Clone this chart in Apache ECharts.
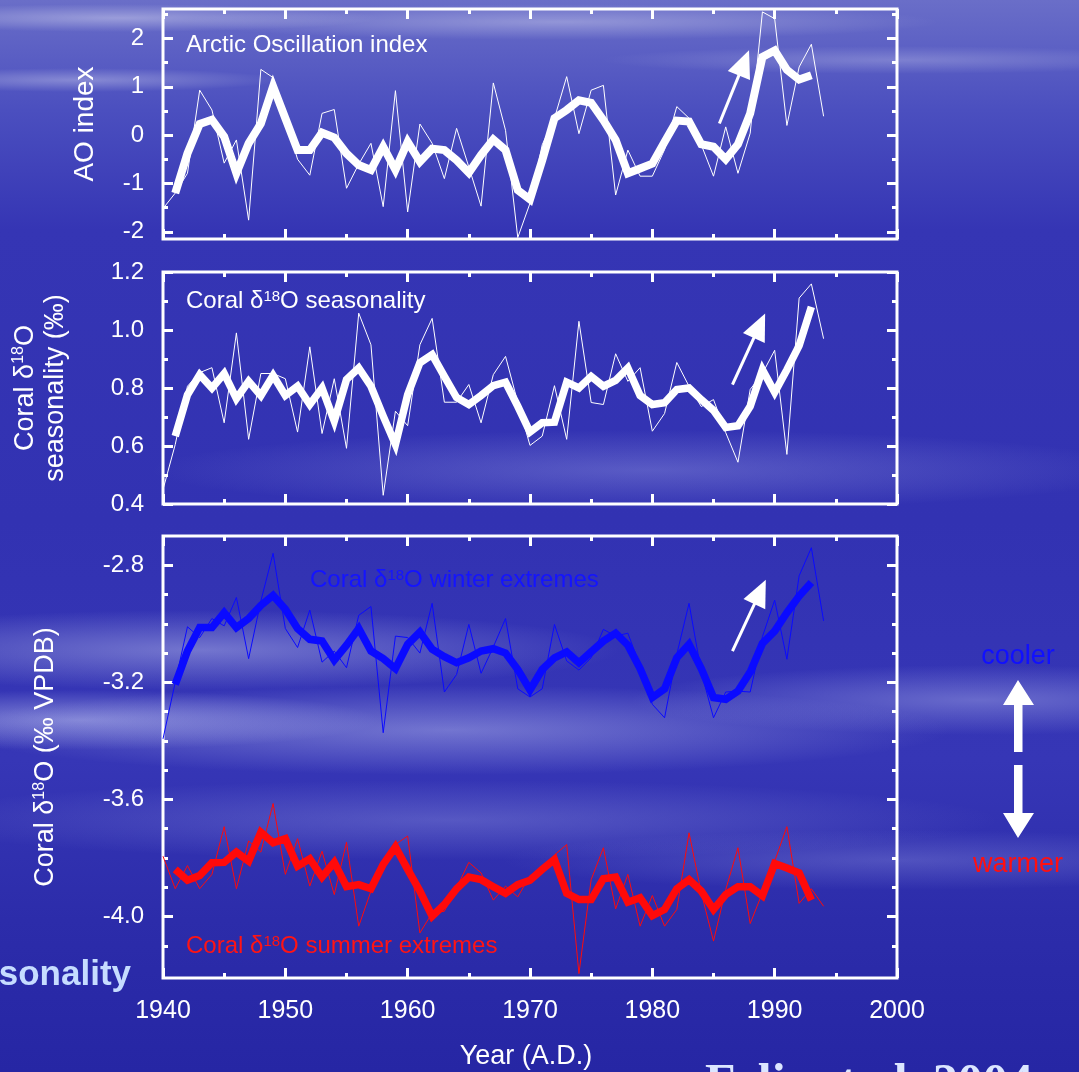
<!DOCTYPE html>
<html><head><meta charset="utf-8">
<script src="https://cdn.jsdelivr.net/npm/echarts@6/dist/echarts.min.js"></script>
<style>
html,body{margin:0;padding:0;width:1079px;height:1072px;overflow:hidden;}
body{background:
 radial-gradient(ellipse 260px 14px at 120px 18px, rgba(255,255,255,0.35), rgba(255,255,255,0)),
 radial-gradient(ellipse 380px 18px at 560px 22px, rgba(255,255,255,0.3), rgba(255,255,255,0)),
 radial-gradient(ellipse 300px 14px at 900px 60px, rgba(255,255,255,0.22), rgba(255,255,255,0)),
 radial-gradient(ellipse 200px 12px at 80px 80px, rgba(255,255,255,0.3), rgba(255,255,255,0)),
 radial-gradient(ellipse 420px 40px at 200px 650px, rgba(210,215,245,0.4), rgba(210,215,245,0)),
 radial-gradient(ellipse 500px 45px at 450px 730px, rgba(200,205,245,0.42), rgba(200,205,245,0)),
 radial-gradient(ellipse 300px 30px at 80px 720px, rgba(200,205,245,0.5), rgba(200,205,245,0)),
 radial-gradient(ellipse 350px 35px at 980px 700px, rgba(200,205,245,0.35), rgba(200,205,245,0)),
 radial-gradient(ellipse 500px 40px at 650px 470px, rgba(180,185,240,0.3), rgba(180,185,240,0)),
 radial-gradient(ellipse 550px 40px at 450px 820px, rgba(180,185,240,0.28), rgba(180,185,240,0)),
 radial-gradient(ellipse 400px 30px at 900px 860px, rgba(180,185,240,0.25), rgba(180,185,240,0)),
 linear-gradient(to bottom, #6a6ec8 0px, #4b4fbf 110px, #3535b4 230px, #3232b2 520px, #3636b6 760px, #2c2caa 920px, #2626a4 1072px);}
#c{width:1079px;height:1072px;}
</style></head><body><div id="c"></div>
<script>
// ---- data ----
const years = [1940,1941,1942,1943,1944,1945,1946,1947,1948,1949,1950,1951,1952,1953,1954,1955,1956,1957,1958,1959,1960,1961,1962,1963,1964,1965,1966,1967,1968,1969,1970,1971,1972,1973,1974,1975,1976,1977,1978,1979,1980,1981,1982,1983,1984,1985,1986,1987,1988,1989,1990,1991,1992,1993,1994];
const smoothYears = [1941,1942,1943,1944,1945,1946,1947,1948,1949,1950,1951,1952,1953,1954,1955,1956,1957,1958,1959,1960,1961,1962,1963,1964,1965,1966,1967,1968,1969,1970,1971,1972,1973,1974,1975,1976,1977,1978,1979,1980,1981,1982,1983,1984,1985,1986,1987,1988,1989,1990,1991,1992,1993];

const aoAnnual = [-1.52,-1.2,-0.79,0.93,0.52,-0.58,-0.1,-1.76,1.36,1.19,
  0.35,-0.5,-0.83,0.45,0.53,-1.1,-0.6,-0.17,-1.48,0.92,
  -1.59,0.23,-0.17,-0.9,0.14,-0.66,-1.47,1.08,0.1,-2.12,
  -1.41,-0.2,0.35,1.21,0.03,0.93,1.03,-1.24,-0.31,-0.85,
  -0.85,-0.3,0.59,0.35,-0.2,-0.85,0.17,-0.79,0.04,2.55,
  2.41,0.2,1.41,1.88,0.39];
const aoSmooth = [-1.2,-0.38,0.23,0.32,-0.03,-0.79,-0.17,0.24,1.01,0.35,
  -0.31,-0.31,0.05,-0.05,-0.38,-0.62,-0.72,-0.24,-0.72,-0.14,
  -0.55,-0.28,-0.31,-0.52,-0.78,-0.41,-0.09,-0.31,-1.14,-1.33,
  -0.52,0.35,0.52,0.72,0.67,0.31,-0.1,-0.79,-0.69,-0.59,
  -0.14,0.3,0.28,-0.19,-0.24,-0.5,-0.19,0.45,1.62,1.75,
  1.35,1.15,1.24];

const seasAnnual = [0.45,0.605,0.806,0.853,0.87,0.68,0.99,0.623,0.85,0.85,
  0.832,0.648,0.942,0.643,0.832,0.592,1.058,0.949,0.43,0.72,
  0.67,0.949,1.04,0.751,0.751,0.812,0.68,0.846,0.909,0.75,
  0.602,0.634,0.808,0.623,1.03,0.75,0.743,0.918,0.823,0.87,
  0.651,0.712,0.888,0.806,0.736,0.76,0.646,0.544,0.795,0.85,
  0.93,0.571,1.11,1.159,0.97];
const seasSmooth = [0.634,0.777,0.846,0.80,0.85,0.763,0.823,0.774,0.843,0.774,
  0.806,0.743,0.80,0.686,0.829,0.869,0.806,0.703,0.605,0.777,
  0.887,0.915,0.84,0.767,0.743,0.774,0.808,0.82,0.737,0.648,
  0.68,0.682,0.82,0.80,0.84,0.806,0.826,0.869,0.774,0.743,
  0.749,0.795,0.80,0.76,0.723,0.664,0.67,0.737,0.863,0.785,
  0.863,0.946,1.08];

const winterAnnual = [-3.393,-3.2,-3.01,-3.047,-2.982,-3.007,-2.91,-3.119,-2.922,-2.759,
  -3.016,-3.081,-2.953,-3.131,-3.093,-3.15,-2.971,-2.941,-3.372,-3.042,
  -3.047,-3.10,-2.93,-3.233,-3.173,-3.002,-3.169,-3.079,-2.982,-3.222,
  -3.25,-3.222,-3.002,-3.127,-3.158,-3.116,-3.019,-3.042,-3.032,-3.144,
  -3.275,-3.321,-3.104,-2.93,-3.165,-3.321,-3.233,-3.23,-3.233,-3.044,
  -2.919,-3.121,-2.836,-2.74,-2.99];
const winterSmooth = [-3.207,-3.093,-3.013,-3.013,-2.962,-3.013,-2.982,-2.937,-2.903,-2.95,
  -3.016,-3.053,-3.059,-3.124,-3.073,-3.016,-3.093,-3.119,-3.153,-3.07,
  -3.028,-3.087,-3.112,-3.133,-3.116,-3.093,-3.085,-3.10,-3.156,-3.226,
  -3.156,-3.116,-3.096,-3.133,-3.096,-3.059,-3.032,-3.073,-3.153,-3.252,
  -3.222,-3.116,-3.07,-3.153,-3.252,-3.258,-3.23,-3.165,-3.067,-3.025,
  -2.962,-2.905,-2.859];

const summerAnnual = [-3.794,-3.905,-3.826,-3.905,-3.856,-3.693,-3.905,-3.742,-3.78,-3.614,
  -3.856,-3.734,-3.896,-3.777,-3.925,-3.746,-4.033,-3.913,-3.816,-3.754,
  -3.725,-4.056,-3.988,-3.982,-3.902,-3.815,-3.851,-3.944,-3.896,-3.933,
  -3.86,-3.84,-3.79,-3.754,-4.195,-3.874,-3.765,-3.974,-3.856,-4.033,
  -3.928,-4.033,-3.976,-3.714,-3.919,-4.084,-3.908,-3.765,-4.024,-3.919,
  -3.811,-3.693,-3.955,-3.905,-3.965];
const summerSmooth = [-3.839,-3.876,-3.86,-3.816,-3.815,-3.78,-3.811,-3.712,-3.748,-3.734,
  -3.828,-3.803,-3.865,-3.815,-3.898,-3.891,-3.905,-3.822,-3.762,-3.839,
  -3.913,-3.999,-3.959,-3.905,-3.865,-3.874,-3.898,-3.921,-3.891,-3.876,
  -3.839,-3.805,-3.921,-3.942,-3.942,-3.871,-3.865,-3.951,-3.936,-3.997,
  -3.976,-3.905,-3.874,-3.913,-3.976,-3.925,-3.898,-3.898,-3.929,-3.819,
  -3.834,-3.851,-3.944];

// tick values / labels
const xTickLabels = ['1940','1950','1960','1970','1980','1990','2000'];
const aoMajorTicks = [-2,-1,0,1,2];
const aoMinorTicks = [-1.5,-0.5,0.5,1.5,2.5];
const seasMajorTicks = [0.4,0.6,0.8,1.0,1.2];
const seasMinorTicks = [0.5,0.7,0.9,1.1];
const d18MajorTicks = [-4.0,-3.6,-3.2,-2.8];
const d18MinorTicks = [-4.1,-3.9,-3.8,-3.7,-3.5,-3.4,-3.3,-3.1,-3.0,-2.9];

// trend arrows [tail, head] in data coords
const aoArrow = [[1985.48,0.24],[1987.49,1.495]];
const seasArrow = [[1986.55,0.812],[1988.76,1.015]];
const d18Arrow = [[1986.55,-3.093],[1988.81,-2.891]];

// ---- chart ----
const FONT = '"Liberation Sans", Arial, sans-serif';
const WHITE = '#ffffff';
const BLUE = '#0a0aff';
const RED = '#ff0a0a';
const zip = (xs, ys) => xs.map((x, i) => [x, ys[i]]);

const grids = [
  {left:163, right:182, top:9, height:230},
  {left:163, right:182, top:272, height:232},
  {left:163, right:182, top:536, height:442}
].map(g => Object.assign(g, {show:true, borderColor:WHITE, borderWidth:3, backgroundColor:'transparent'}));

function xAx(gi, pos, showLabels) {
  return {
    type:'value', gridIndex:gi, position:pos, min:1940, max:2000, interval:10,
    axisLine:{show:false, onZero:false}, splitLine:{show:false},
    axisTick:{show:true, inside:true, length:10, lineStyle:{color:WHITE, width:3}},
    minorTick:{show:true, splitNumber:2, length:5, lineStyle:{color:WHITE, width:3}},
    minorSplitLine:{show:false},
    axisLabel:{show:showLabels, margin:21, color:WHITE, fontSize:25, fontFamily:FONT,
      formatter: v => xTickLabels[Math.round((v - 1940) / 10)] || ''}
  };
}
function yAx(gi, pos, min, max, ticks, len, labelFmt, name) {
  const a = {
    type:'value', gridIndex:gi, position:pos, min:min, max:max,
    axisLine:{show:false, onZero:false}, splitLine:{show:false},
    axisTick:{show:true, inside:true, length:len, customValues:ticks, lineStyle:{color:WHITE, width:3}},
    axisLabel:{show:false}
  };
  if (labelFmt) {
    a.axisLabel = {show:true, customValues:ticks, margin:19, color:WHITE, fontSize:24, fontFamily:FONT, formatter:labelFmt};
  }
  if (name) Object.assign(a, name);
  return a;
}
const richName = {
  n:{fontSize:27, color:WHITE, fontFamily:FONT},
  s:{fontSize:16, color:WHITE, fontFamily:FONT, verticalAlign:'top', lineHeight:20}
};
const panels = [
  {min:-2.15, max:2.61, major:aoMajorTicks, minor:aoMinorTicks, fmt:v=>String(v),
   name:{name:'AO index', nameLocation:'middle', nameGap:64, nameTextStyle:{color:WHITE, fontSize:28, fontFamily:FONT}}},
  {min:0.4, max:1.2, major:seasMajorTicks, minor:seasMinorTicks, fmt:v=>v.toFixed(1),
   name:{name:'{n|Coral δ}{s|18}{n|O}\n{n|seasonality (‰)}', nameLocation:'middle', nameGap:92,
     nameTextStyle:{color:WHITE, fontSize:27, fontFamily:FONT, lineHeight:30, rich:richName}}},
  {min:-4.21, max:-2.7, major:d18MajorTicks, minor:d18MinorTicks, fmt:v=>v.toFixed(1),
   name:{name:'{n|Coral δ}{s|18}{n|O (‰ VPDB)}', nameLocation:'middle', nameGap:104,
     nameTextStyle:{color:WHITE, fontSize:27, fontFamily:FONT, rich:richName}}}
];
const xAxes = [], yAxes = [];
panels.forEach((p, gi) => {
  xAxes.push(xAx(gi, 'bottom', gi === 2));
  xAxes.push(xAx(gi, 'top', false));
  yAxes.push(yAx(gi, 'left', p.min, p.max, p.major, 10, p.fmt, p.name));
  yAxes.push(yAx(gi, 'left', p.min, p.max, p.minor, 5, null, null));
  yAxes.push(yAx(gi, 'right', p.min, p.max, p.major, 10, null, null));
  yAxes.push(yAx(gi, 'right', p.min, p.max, p.minor, 5, null, null));
});

function thin(gi, ys, color) {
  return {type:'line', xAxisIndex:gi*2, yAxisIndex:gi*4, data:zip(years, ys), symbol:'none',
    lineStyle:{color:color, width:1}, silent:true, z:3};
}
function thick(gi, ys, color, arrow, w) {
  const s = {type:'line', xAxisIndex:gi*2, yAxisIndex:gi*4, data:zip(smoothYears, ys), symbol:'none',
    lineStyle:{color:color, width:w, join:'miter'}, silent:true, z:4};
  if (arrow) {
    s.markLine = {silent:true, symbol:['none','triangle'], symbolSize:[24,27], animation:false,
      label:{show:false}, lineStyle:{color:WHITE, width:3, type:'solid'},
      data:[[{coord:arrow[0]},{coord:arrow[1]}]]};
  }
  return s;
}
const series = [
  thin(0, aoAnnual, WHITE), thick(0, aoSmooth, WHITE, aoArrow, 8),
  thin(1, seasAnnual, WHITE), thick(1, seasSmooth, WHITE, seasArrow, 7.5),
  thin(2, winterAnnual, BLUE), thick(2, winterSmooth, BLUE, d18Arrow, 7.5),
  thin(2, summerAnnual, RED), thick(2, summerSmooth, RED, null, 7.5)
];

const richAnn = (c) => ({
  n:{fontSize:24, fill:c, fontFamily:FONT},
  s:{fontSize:15, fill:c, fontFamily:FONT, verticalAlign:'top', lineHeight:18}
});
function annText(x, y, text, color) {
  return {type:'text', left:x, top:y, silent:true,
    style:{text:text, fill:color, font:'24px ' + FONT, rich:richAnn(color)}};
}
const graphic = [
  {type:'text', left:186, top:33, silent:true, style:{text:'Arctic Oscillation index', fill:WHITE, font:'24px ' + FONT}},
  annText(186, 289, '{n|Coral δ}{s|18}{n|O seasonality}', WHITE),
  annText(310, 568, '{n|Coral δ}{s|18}{n|O winter extremes}', '#1414ff'),
  annText(186, 934, '{n|Coral δ}{s|18}{n|O summer extremes}', '#ff1414'),
  {type:'text', x:1018, y:657, silent:true, style:{text:'cooler', fill:'#1010ff', font:'27px ' + FONT, textAlign:'center', textVerticalAlign:'middle'}},
  {type:'text', x:1018, y:865, silent:true, style:{text:'warmer', fill:'#ff1010', font:'27px ' + FONT, textAlign:'center', textVerticalAlign:'middle'}},
  {type:'polygon', silent:true, shape:{points:[[1018,680],[1034,705],[1022.5,705],[1022.5,752],[1014,752],[1014,705],[1003,705]]}, style:{fill:WHITE}},
  {type:'polygon', silent:true, shape:{points:[[1018,838],[1034,813],[1022.5,813],[1022.5,765],[1014,765],[1014,813],[1003,813]]}, style:{fill:WHITE}},
  {type:'text', x:131, y:975, silent:true, style:{text:'seasonality', fill:'#c6dcff', font:'bold 35px ' + FONT, textAlign:'right', textVerticalAlign:'middle'}},
  {type:'text', x:705, y:1060, silent:true, style:{text:'Felis et al. 2004', fill:'#dce6ff', font:'bold 50px "Liberation Serif", serif', textAlign:'left', textVerticalAlign:'top'}},
  {type:'text', x:526, y:1057, silent:true, style:{text:'Year (A.D.)', fill:WHITE, font:'27px ' + FONT, textAlign:'center', textVerticalAlign:'middle'}}
];

const chart = echarts.init(document.getElementById('c'), null, {renderer:'canvas'});
chart.setOption({
  backgroundColor:'transparent',
  animation:false,
  grid:grids,
  xAxis:xAxes,
  yAxis:yAxes,
  series:series,
  graphic:graphic
});
</script></body></html>
